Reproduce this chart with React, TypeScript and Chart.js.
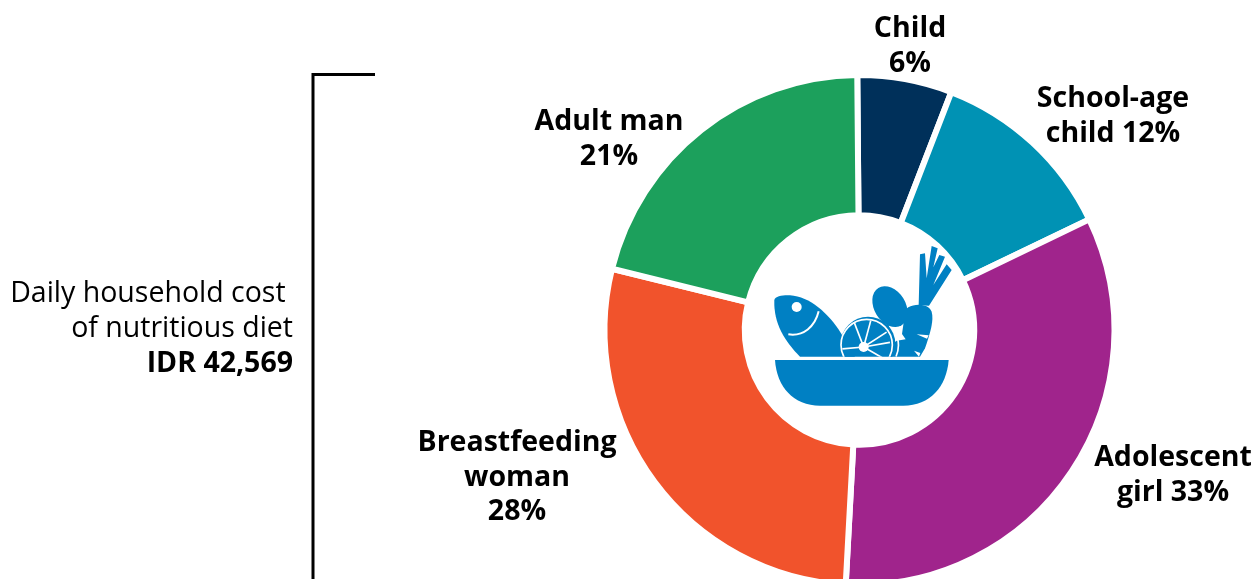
import React, { useEffect, useRef } from "react";
import { Chart, registerables } from "chart.js";

Chart.register(...registerables);

const groups = ["Child", "School-age child", "Adolescent girl", "Breastfeeding woman", "Adult man"];
const shares = [6, 12, 33, 28, 21];
const sliceColors = ["#00305A", "#0092B4", "#A0248C", "#F1532C", "#1CA05C"];
const labelLines = [["Child", "6%"], ["School-age", "child 12%"], ["Adolescent", "girl 33%"], ["Breastfeeding", "woman", "28%"], ["Adult man", "21%"]];
const labelAnchors = [[910, 37], [1113, 107], [1173, 466], [517, 451], [609, 130]];
const costLines = ["Daily household cost ", "of nutritious diet"];
const costValue = "IDR 42,569";

const FONT = '"Open Sans", sans-serif';

// Slice labels, the bracket and the household cost note.
const annotations = {
  id: "annotations",
  afterDraw(chart: any) {
    const ctx = chart.ctx;
    ctx.save();
    ctx.fillStyle = "#000";
    ctx.textBaseline = "alphabetic";
    ctx.textAlign = "center";
    ctx.font = `700 28.5px ${FONT}`;
    labelLines.forEach((lines, i) => {
      lines.forEach((line, j) => {
        ctx.fillText(line, labelAnchors[i][0], labelAnchors[i][1] + j * 34.5);
      });
    });
    ctx.textAlign = "right";
    ctx.font = `400 28.5px ${FONT}`;
    ctx.fillText(costLines[0], 293, 302);
    ctx.fillText(costLines[1], 293, 337);
    ctx.font = `700 28.5px ${FONT}`;
    ctx.fillText(costValue, 293, 372);
    ctx.strokeStyle = "#000";
    ctx.lineWidth = 3;
    ctx.beginPath();
    ctx.moveTo(375, 74.5);
    ctx.lineTo(313, 74.5);
    ctx.lineTo(313, 600);
    ctx.stroke();
    ctx.restore();
  },
};

function FoodBowl() {
  const blue = "#0080C3";
  // Citrus segment dividers as [angle in degrees, length].
  const spokes = [[-111, 80], [-75, 82], [-33, 82], [-10, 80], [30, 78], [175, 64]];
  return (
    <svg
      viewBox="0 0 720 600"
      width={240}
      height={200}
      style={{ position: "absolute", left: 740, top: 220 }}
    >
      <defs>
        <clipPath id="aboveRim">
          <rect x="0" y="0" width="720" height="410" />
        </clipPath>
      </defs>
      <path fill={blue} d="M105 420 H626 C620 500 570 557 490 557 H240 C160 557 110 500 105 420 Z" />
      <path fill={blue} d="M180 410 C135 365 100 310 103 240 C105 228 130 225 150 226 C210 230 265 280 302 338 L345 410 Z" />
      <circle cx="170" cy="261" r="15" fill="#fff" />
      <path d="M145 343 C190 350 225 320 236 274" fill="none" stroke="#fff" strokeWidth="6" />
      <path fill={blue} d="M505 262 C525 250 565 250 575 275 C582 300 572 335 555 385 L540 410 H450 L440 310 Z" />
      <path fill="#fff" d="M446 316 L482 318 L492 300 L486 342 L497 358 L470 362 L462 368 Z" />
      <path fill="#fff" d="M530 343 L566 346 L561 356 Z M522 392 L541 399 L537 410 Z" />
      <g clipPath="url(#aboveRim)">
        <path d="M445 310 A 86 86 0 0 1 468 410" fill="none" stroke="#fff" strokeWidth="5" />
        <circle cx="384" cy="372" r="82" fill={blue} />
        <circle cx="380" cy="375" r="77" fill="none" stroke="#fff" strokeWidth="5" />
        {spokes.map(([a, len]) => (
          <line
            key={a}
            x1="371"
            y1="381"
            x2={371 + len * Math.cos((a * Math.PI) / 180)}
            y2={381 + len * Math.sin((a * Math.PI) / 180)}
            stroke="#fff"
            strokeWidth="5"
          />
        ))}
        <circle cx="371" cy="381" r="15" fill="#fff" />
      </g>
      <ellipse cx="450" cy="260" rx="47" ry="66" fill={blue} transform="rotate(-32 450 260)" />
      <path fill={blue} d="M540 103 L555 100 L560 175 L575 78 L593 85 L580 142 L598 105 L615 110 L580 195 L620 133 L635 150 L567 257 L536 256 Z" />
    </svg>
  );
}

export default function App() {
  const ref = useRef<HTMLCanvasElement>(null);
  useEffect(() => {
    const chart = new Chart(ref.current!, {
      type: "doughnut",
      data: {
        labels: groups,
        datasets: [
          {
            data: shares,
            backgroundColor: sliceColors,
            borderColor: "#fff",
            borderWidth: 6,
            hoverOffset: 0,
          },
        ],
      },
      options: {
        responsive: false,
        animation: false,
        cutout: "45%",
        rotation: -0.5,
        layout: { padding: { left: 601, right: 140, top: 72, bottom: 12 } },
        plugins: { legend: { display: false }, tooltip: { enabled: false } },
      },
      plugins: [annotations],
    });
    return () => chart.destroy();
  }, []);
  return (
    <div style={{ position: "absolute", left: 0, top: 0, width: 1258, height: 579, overflow: "hidden", background: "#fff" }}>
      <canvas ref={ref} width={1258} height={600} style={{ display: "block" }} />
      <FoodBowl />
    </div>
  );
}
